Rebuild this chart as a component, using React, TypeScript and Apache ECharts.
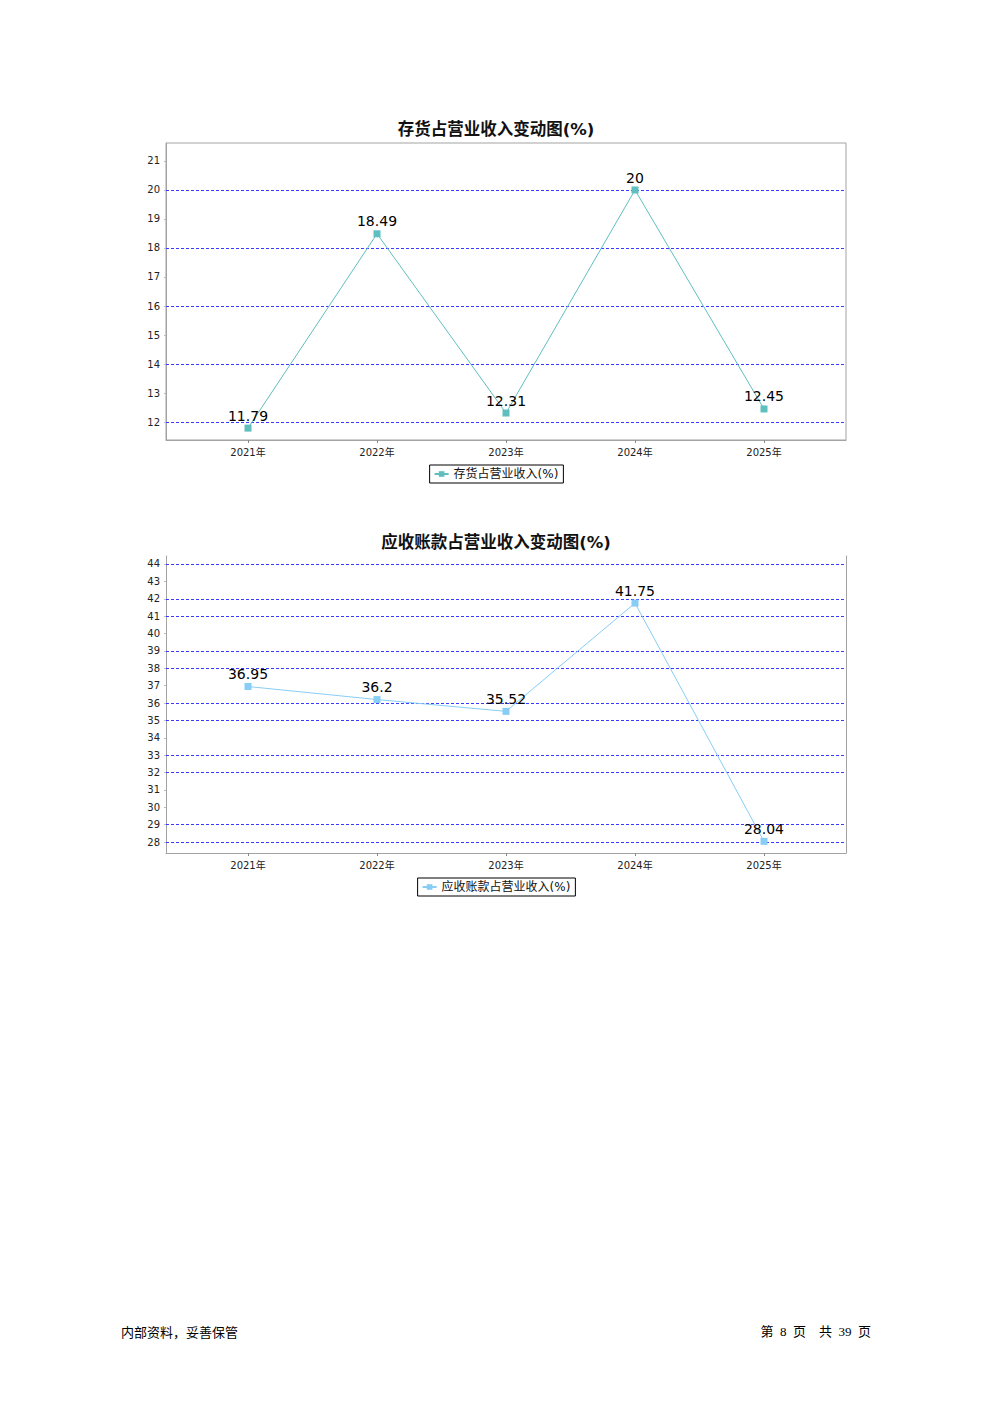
import React, { useEffect, useRef } from "react";
import * as echarts from "echarts";

const years = ["2021年", "2022年", "2023年", "2024年", "2025年"];
const yearIndex = [0, 1, 2, 3, 4];

const inventoryName = "存货占营业收入(%)";
const inventoryTitle = "存货占营业收入变动图(%)";
const inventoryValues = [11.79, 18.49, 12.31, 20, 12.45];
const inventoryTicks = [12, 13, 14, 15, 16, 17, 18, 19, 20, 21];
const inventoryGridLines = [12, 14, 16, 18, 20];

const receivableName = "应收账款占营业收入(%)";
const receivableTitle = "应收账款占营业收入变动图(%)";
const receivableValues = [36.95, 36.2, 35.52, 41.75, 28.04];
const receivableTicks = [28, 29, 30, 31, 32, 33, 34, 35, 36, 37, 38, 39, 40, 41, 42, 43, 44];
const receivableGridLines = [28, 29, 32, 33, 35, 36, 38, 39, 41, 42, 44];

const footerLeft = "内部资料，妥善保管";
const footerRight = "第  8  页    共  39  页";

const FONT = "'DejaVu Sans', 'Noto Sans CJK SC', sans-serif";
const GRID_BORDER = "#a3a3a3";
const DASH_BLUE = "#3a3aff";

function xAxisFor(gridIndex: number) {
  return {
    type: "value",
    gridIndex,
    min: -0.6357,
    max: 4.6357,
    splitLine: { show: false },
    axisLine: { show: true, onZero: false, lineStyle: { color: GRID_BORDER, width: 1 } },
    axisTick: {
      show: true,
      customValues: yearIndex,
      length: 3,
      lineStyle: { color: "#888" },
    },
    axisLabel: {
      customValues: yearIndex,
      formatter: (v: number) => years[Math.round(v)] ?? "",
      fontSize: 10,
      color: "#222",
      fontFamily: FONT,
      margin: 7,
    },
  };
}

function yAxisFor(gridIndex: number, min: number, max: number, ticks: number[]) {
  return {
    type: "value",
    gridIndex,
    min,
    max,
    splitLine: { show: false },
    axisLine: { show: true, onZero: false, lineStyle: { color: GRID_BORDER, width: 1 } },
    axisTick: {
      show: true,
      customValues: ticks,
      length: 2,
      lineStyle: { color: "#bbb" },
    },
    axisLabel: {
      customValues: ticks,
      fontSize: 10,
      color: "#222",
      fontFamily: FONT,
      margin: 6,
    },
  };
}

function seriesFor(
  name: string,
  values: number[],
  gridLines: number[],
  color: string,
  axisIndex: number
) {
  return {
    type: "line",
    name,
    xAxisIndex: axisIndex,
    yAxisIndex: axisIndex,
    data: values.map((v, i) => [yearIndex[i], v]),
    symbol: "rect",
    symbolSize: 7,
    lineStyle: { color, width: 1 },
    itemStyle: { color },
    label: {
      show: true,
      position: "top",
      distance: 2,
      fontSize: 14,
      color: "#000",
      fontFamily: FONT,
      formatter: (p: any) => String(p.value[1]),
    },
    markLine: {
      silent: true,
      symbol: "none",
      label: { show: false },
      lineStyle: { color: DASH_BLUE, type: [3, 2], width: 1 },
      data: gridLines.map((v) => ({ yAxis: v })),
      z: 1,
    },
    z: 5,
  };
}

function legendFor(name: string, top: number) {
  return {
    data: [name],
    left: "center",
    top,
    orient: "horizontal",
    borderColor: "#000",
    borderWidth: 1,
    padding: [3, 5, 3, 4],
    itemWidth: 14,
    itemHeight: 7,
    itemGap: 4,
    textStyle: { fontSize: 12, color: "#111", fontFamily: FONT },
  };
}

export default function App() {
  const ref = useRef<HTMLDivElement>(null);

  useEffect(() => {
    if (!ref.current) return;
    const chart = echarts.init(ref.current, undefined, { renderer: "svg" });
    const option: any = {
      animation: false,
      backgroundColor: "#fff",
      title: [
        {
          text: inventoryTitle,
          left: "center",
          top: 116,
          textStyle: { fontSize: 16.5, fontWeight: "bold", color: "#111", fontFamily: FONT },
        },
        {
          text: receivableTitle,
          left: "center",
          top: 529,
          textStyle: { fontSize: 16.5, fontWeight: "bold", color: "#111", fontFamily: FONT },
        },
      ],
      legend: [legendFor(inventoryName, 465), legendFor(receivableName, 878)],
      grid: [
        {
          left: 166,
          top: 143,
          width: 680,
          height: 297,
          show: true,
          borderColor: GRID_BORDER,
          borderWidth: 1,
          containLabel: false,
        },
        {
          left: 166,
          top: 556,
          width: 680,
          height: 297,
          show: false,
          containLabel: false,
        },
      ],
      xAxis: [xAxisFor(0), xAxisFor(1)],
      yAxis: [
        yAxisFor(0, 11.38, 21.62, inventoryTicks),
        yAxisFor(1, 27.37, 44.46, receivableTicks),
        {
          type: "value",
          gridIndex: 1,
          position: "right",
          min: 27.37,
          max: 44.46,
          splitLine: { show: false },
          axisLine: { show: true, onZero: false, lineStyle: { color: GRID_BORDER, width: 1 } },
          axisTick: { show: false },
          axisLabel: { show: false },
        },
      ],
      series: [
        seriesFor(inventoryName, inventoryValues, inventoryGridLines, "#5fbfbf", 0),
        seriesFor(receivableName, receivableValues, receivableGridLines, "#88cdf6", 1),
      ],
      graphic: [
        {
          type: "text",
          left: 121,
          top: 1325,
          style: {
            text: footerLeft,
            fontSize: 13,
            fill: "#000",
            fontFamily: "'Noto Sans CJK SC', sans-serif",
          },
        },
        {
          type: "text",
          right: 121,
          top: 1325,
          style: {
            text: footerRight,
            fontSize: 13,
            fill: "#000",
            fontFamily: "'Liberation Serif', 'Noto Sans CJK SC', serif",
          },
        },
      ],
    };
    chart.setOption(option);
    return () => chart.dispose();
  }, []);

  return (
    <div
      ref={ref}
      style={{ position: "fixed", left: 0, top: 0, width: 992, height: 1403, background: "#fff" }}
    />
  );
}
